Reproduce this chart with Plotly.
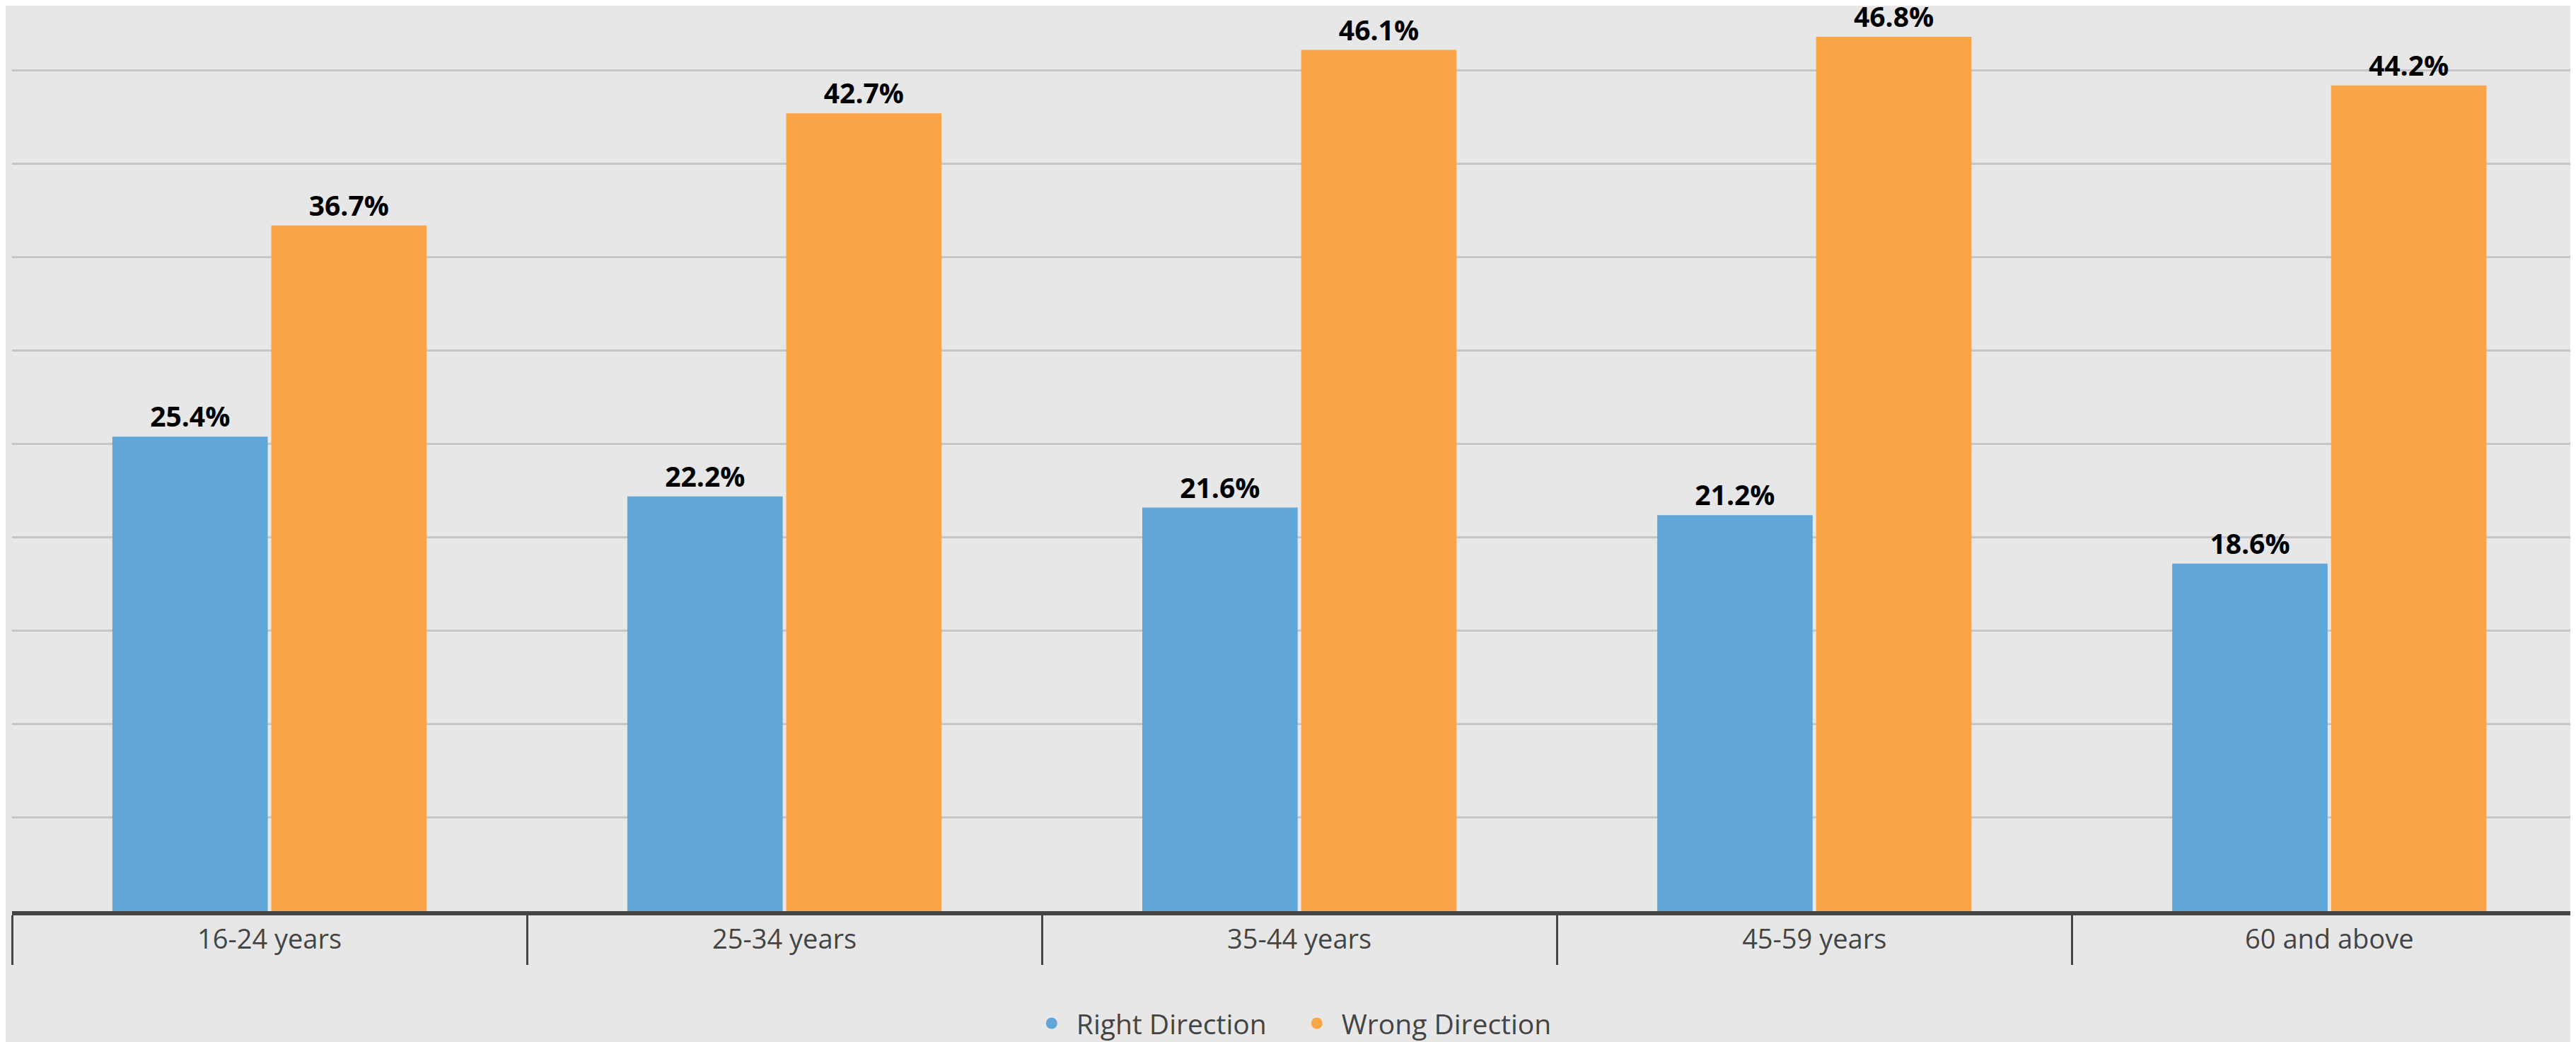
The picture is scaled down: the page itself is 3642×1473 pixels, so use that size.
import plotly.graph_objects as go

categories = ["16-24 years", "25-34 years", "35-44 years", "45-59 years", "60 and above"]
right_direction = [25.4, 22.2, 21.6, 21.2, 18.6]
wrong_direction = [36.7, 42.7, 46.1, 46.8, 44.2]
series_names = ["Right Direction", "Wrong Direction"]
series_colors = ["#60a6d9", "#f9a548"]

BG = "#e7e7e7"
FONT = "Open Sans, Noto Sans, sans-serif"

fig = go.Figure()
for name, vals, col in zip(series_names, [right_direction, wrong_direction], series_colors):
    fig.add_trace(go.Bar(
        x=categories, y=vals, name=name,
        marker=dict(color=col, line=dict(width=0)),
        text=[f"{v:.1f}%" for v in vals],
        textposition="outside",
        textfont=dict(family=FONT, size=39, color="#000000", weight="bold"),
        cliponaxis=False,
        showlegend=False,
        hoverinfo="skip",
    ))
# legend entries (circle symbols)
for name, col in zip(series_names, series_colors):
    fig.add_trace(go.Scatter(
        x=[None], y=[None], mode="markers", name=name,
        marker=dict(color=col, size=16, symbol="circle"),
        showlegend=True,
    ))

fig.update_layout(
    width=3634, height=1465,
    paper_bgcolor=BG, plot_bgcolor=BG,
    margin=dict(l=9, r=0, t=0, b=185, pad=0, autoexpand=False),
    barmode="group", bargap=0.383, bargroupgap=0.022,
    font=dict(family=FONT, color="#444444"),
    legend=dict(
        orientation="h", xref="container", yref="container",
        x=0.5005, xanchor="center", y=0.018, yanchor="middle",
        font=dict(family=FONT, size=39, color="#444444"),
        bgcolor="rgba(0,0,0,0)", itemwidth=60, entrywidth=300,
    ),
    xaxis=dict(
        type="category", range=[-0.5, 4.479],
        showline=True, linecolor="#444444", linewidth=6,
        ticks="outside", tickson="boundaries", ticklen=70, tickwidth=3, tickcolor="#444444",
        tickfont=dict(family=FONT, size=38, color="#444444"),
        ticklabelstandoff=1,
        showgrid=False, zeroline=False, automargin=False,
    ),
    yaxis=dict(
        range=[0, 48.47], dtick=5, tick0=0,
        showgrid=True, gridcolor="#c6c6c6", gridwidth=3,
        showticklabels=False, zeroline=False, showline=False, ticks="",
        automargin=False,
    ),
)

fig.write_html("out.html")
